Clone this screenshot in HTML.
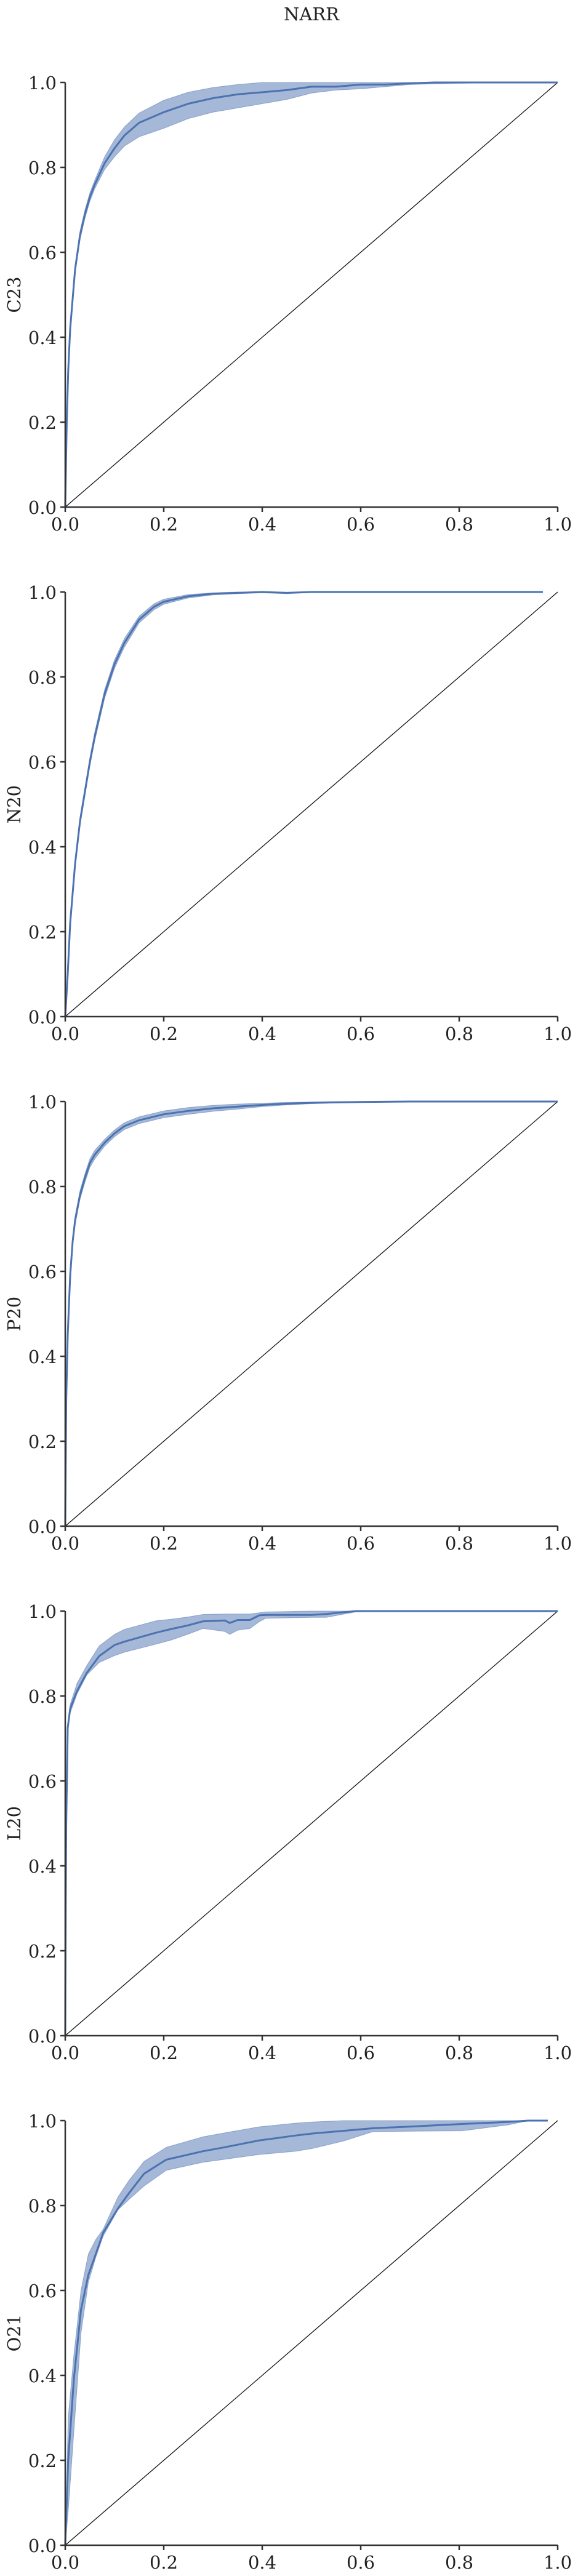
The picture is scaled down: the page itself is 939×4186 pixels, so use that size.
<!DOCTYPE html>
<html><head><meta charset="utf-8">
<style>
html,body{margin:0;padding:0;background:#fff;}
svg{display:block;font-family:"DejaVu Serif","Liberation Serif",serif;}
</style></head>
<body>
<svg id="fig" width="939" height="4186" viewBox="0 0 939 4186">
<text x="506" y="33" font-size="29" text-anchor="middle" fill="#222">NARR</text>
</svg>
<script>
// ---- data ----
const panelNames = ["C23","N20","P20","L20","O21"];
const tickLabels = ["0.0","0.2","0.4","0.6","0.8","1.0"];
const tickValues = [0,0.2,0.4,0.6,0.8,1.0];

const c23X    = [0,0.003,0.006,0.01,0.02,0.025,0.03,0.04,0.05,0.06,0.08,0.1,0.12,0.15,0.2,0.25,0.3,0.35,0.4,0.45,0.5,0.55,0.6,0.65,0.7,0.75,0.8,0.9,1.0];
const c23Mean = [0,0.2,0.32,0.42,0.56,0.6,0.64,0.69,0.73,0.76,0.81,0.845,0.875,0.905,0.93,0.95,0.963,0.972,0.977,0.982,0.99,0.99,0.995,0.995,0.998,1,1,1,1];
const c23Lo   = [0,0.19,0.31,0.41,0.55,0.59,0.63,0.68,0.72,0.75,0.795,0.825,0.85,0.872,0.892,0.915,0.93,0.94,0.95,0.96,0.975,0.982,0.985,0.99,0.995,0.997,0.998,1,1];
const c23Hi   = [0,0.21,0.33,0.43,0.57,0.61,0.65,0.70,0.74,0.77,0.825,0.865,0.895,0.928,0.958,0.977,0.988,0.995,1,1,1,1,1,1,1,1,1,1,1];

const n20X    = [0,0.005,0.01,0.02,0.03,0.04,0.05,0.06,0.08,0.1,0.12,0.15,0.18,0.2,0.25,0.3,0.35,0.4,0.45,0.5,0.6,0.7,0.8,0.9,0.97];
const n20Mean = [0,0.1,0.22,0.36,0.46,0.53,0.6,0.66,0.76,0.83,0.88,0.935,0.965,0.977,0.99,0.996,0.998,1,0.998,1,1,1,1,1,1];
const n20Lo   = [0,0.09,0.21,0.35,0.45,0.52,0.59,0.65,0.75,0.82,0.87,0.927,0.958,0.971,0.986,0.993,0.996,0.998,0.996,0.999,1,1,1,1,1];
const n20Hi   = [0,0.11,0.23,0.37,0.47,0.54,0.61,0.67,0.77,0.84,0.89,0.943,0.972,0.983,0.994,0.998,1,1,0.999,1,1,1,1,1,1];

const p20X    = [0,0.002,0.005,0.01,0.015,0.02,0.03,0.04,0.05,0.06,0.08,0.1,0.12,0.15,0.2,0.25,0.3,0.35,0.4,0.45,0.5,0.55,0.6,0.7,0.8,0.9,1.0];
const p20Mean = [0,0.3,0.45,0.59,0.67,0.72,0.78,0.82,0.855,0.875,0.903,0.925,0.942,0.956,0.97,0.978,0.984,0.988,0.992,0.995,0.997,0.998,0.999,1,1,1,1];
const p20Lo   = [0,0.28,0.43,0.575,0.66,0.71,0.77,0.81,0.845,0.865,0.895,0.917,0.934,0.948,0.962,0.97,0.977,0.982,0.988,0.992,0.995,0.997,0.998,1,1,1,1];
const p20Hi   = [0,0.32,0.47,0.605,0.68,0.73,0.79,0.83,0.865,0.885,0.911,0.933,0.95,0.964,0.978,0.986,0.991,0.994,0.996,0.998,0.999,1,1,1,1,1,1];

const l20X    = [0,0.001,0.002,0.005,0.01,0.024,0.044,0.069,0.1,0.12,0.184,0.216,0.248,0.28,0.324,0.334,0.35,0.375,0.394,0.407,0.5,0.53,0.59,0.7,0.8,0.9,1.0];
const l20Mean = [0,0.3,0.5,0.725,0.77,0.812,0.855,0.894,0.92,0.928,0.949,0.958,0.966,0.976,0.978,0.972,0.979,0.979,0.99,0.991,0.991,0.993,1,1,1,1,1];
const l20Lo   = [0,0.28,0.48,0.715,0.76,0.805,0.85,0.879,0.895,0.903,0.922,0.932,0.945,0.959,0.952,0.945,0.955,0.959,0.975,0.983,0.985,0.985,0.998,1,1,1,1];
const l20Hi   = [0,0.32,0.52,0.735,0.78,0.83,0.872,0.918,0.945,0.957,0.977,0.981,0.986,0.992,0.993,0.993,0.993,0.993,0.996,0.998,1,1,1,1,1,1,1];

const o21X    = [0,0.006,0.0175,0.032,0.047,0.062,0.077,0.107,0.13,0.16,0.205,0.28,0.318,0.3925,0.468,0.505,0.565,0.625,0.7,0.805,0.9,0.94,0.98];
const o21Mean = [0,0.2,0.391,0.555,0.637,0.686,0.736,0.793,0.83,0.875,0.908,0.928,0.936,0.953,0.965,0.97,0.976,0.982,0.986,0.992,0.997,1,1];
const o21Lo   = [0,0.08,0.268,0.50,0.62,0.678,0.728,0.79,0.815,0.846,0.883,0.902,0.908,0.92,0.928,0.935,0.952,0.974,0.975,0.976,0.99,1,1];
const o21Hi   = [0,0.3,0.448,0.6,0.686,0.72,0.744,0.82,0.86,0.904,0.937,0.962,0.97,0.985,0.994,0.997,1,1,1,1,1,1,1];

const panelX    = [c23X,n20X,p20X,l20X,o21X];
const panelMean = [c23Mean,n20Mean,p20Mean,l20Mean,o21Mean];
const panelLo   = [c23Lo,n20Lo,p20Lo,l20Lo,o21Lo];
const panelHi   = [c23Hi,n20Hi,p20Hi,l20Hi,o21Hi];

// ---- layout ----
const NS = "http://www.w3.org/2000/svg";
const svg = document.getElementById("fig");
const AX_LEFT = 106, AX_W = 800, AX_H = 690;
const panelTops = [134, 962, 1790, 2618, 3446];

function mk(tag, attrs, parent) {
  const e = document.createElementNS(NS, tag);
  for (const k in attrs) e.setAttribute(k, attrs[k]);
  parent.appendChild(e);
  return e;
}

panelNames.forEach((name, p) => {
  const top = panelTops[p];
  const sx = v => AX_LEFT + v * AX_W;
  const sy = v => top + (1 - v) * AX_H;
  const g = mk("g", {}, svg);
  
  

  const diag = mk("line", {x1: sx(0), y1: sy(0), x2: sx(1), y2: sy(1), stroke: "#111", "stroke-width": 1.3}, g);
  
  

  const xs = panelX[p], m = panelMean[p], lo = panelLo[p], hi = panelHi[p];
  let d = "";
  xs.forEach((x, i) => { d += (i ? "L" : "M") + sx(x).toFixed(1) + "," + sy(hi[i]).toFixed(1); });
  for (let i = xs.length - 1; i >= 0; i--) d += "L" + sx(xs[i]).toFixed(1) + "," + sy(lo[i]).toFixed(1);
  d += "Z";
  const band = mk("path", {d: d, fill: "#4c72b0", "fill-opacity": 0.5, stroke: "#4c72b0", "stroke-opacity": 0.5, "stroke-width": 1}, g);
  
  

  let ld = "";
  xs.forEach((x, i) => { ld += (i ? "L" : "M") + sx(x).toFixed(1) + "," + sy(m[i]).toFixed(1); });
  const line = mk("path", {d: ld, fill: "none", stroke: "#4c72b0", "stroke-width": 3, "stroke-linejoin": "round"}, g);
  
  

  const ya = mk("line", {x1: sx(0), y1: sy(1), x2: sx(0), y2: sy(0), stroke: "#333", "stroke-width": 2.5}, g);
  
  
  const xa = mk("line", {x1: sx(0), y1: sy(0), x2: sx(1), y2: sy(0), stroke: "#333", "stroke-width": 2.5}, g);
  
  

  tickValues.forEach((t, i) => {
    const yt = mk("line", {x1: sx(0) - 8, y1: sy(t), x2: sx(0), y2: sy(t), stroke: "#333", "stroke-width": 2.5}, g);
    
    
    const yl = mk("text", {x: sx(0) - 14, y: sy(t) + 11, "font-size": 29, "text-anchor": "end", fill: "#222"}, g);
    yl.textContent = tickLabels[i];
    
    
    const xt = mk("line", {x1: sx(t), y1: sy(0), x2: sx(t), y2: sy(0) + 8, stroke: "#333", "stroke-width": 2.5}, g);
    
    
    const xl = mk("text", {x: sx(t), y: sy(0) + 38, "font-size": 29, "text-anchor": "middle", fill: "#222"}, g);
    xl.textContent = tickLabels[i];
    
    
  });

  const lab = mk("text", {x: 0, y: 0, "font-size": 29, "text-anchor": "middle", fill: "#222",
    transform: "translate(33," + (top + AX_H / 2) + ") rotate(-90)"}, g);
  lab.textContent = name;
  
  
});
</script>
</body></html>
